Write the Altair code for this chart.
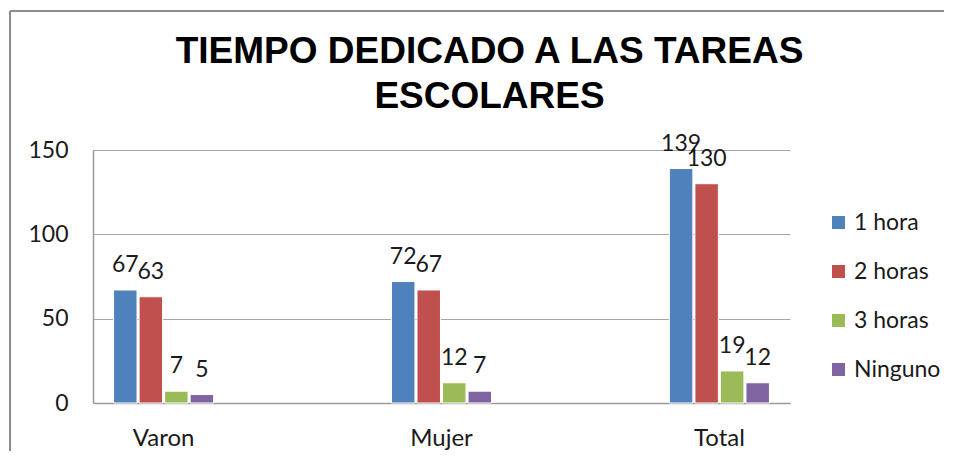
import altair as alt
import pandas as pd

categories = ["Varon", "Mujer", "Total"]
series = ["1 hora", "2 horas", "3 horas", "Ninguno"]
values = {
    "1 hora": [67, 72, 139],
    "2 horas": [63, 67, 130],
    "3 horas": [7, 12, 19],
    "Ninguno": [5, 7, 12],
}
colors = ["#4F81BD", "#C0504D", "#9BBB59", "#8064A2"]

rows = []
for s in series:
    for c, v in zip(categories, values[s]):
        rows.append({"grupo": c, "serie": s, "valor": v})
df = pd.DataFrame(rows)

FONT = "Lato"
TXT = "#1a1a1a"

x_enc = alt.X("grupo:N", sort=categories, title=None,
              scale=alt.Scale(paddingInner=0.64, paddingOuter=0.074),
              axis=alt.Axis(labelAngle=0, labelFontSize=24, labelFont=FONT, labelColor=TXT,
                            ticks=False, labelPadding=23, domainColor="#9a9a9a",
                            domainWidth=1.5, grid=False))
xo_enc = alt.XOffset("serie:N", sort=series, scale=alt.Scale(paddingInner=0.08, paddingOuter=0))
y_enc = alt.Y("valor:Q", title=None,
              scale=alt.Scale(domain=[0, 150], nice=False),
              axis=alt.Axis(values=[0, 50, 100, 150], labelFontSize=23, labelFont=FONT,
                            labelColor=TXT, ticks=False, labelPadding=25,
                            domainColor="#9a9a9a", domainWidth=1.5,
                            gridColor="#a6a6a6", gridWidth=1.2))

bars = alt.Chart(df).mark_bar(stroke="white", strokeWidth=1).encode(
    x=x_enc, xOffset=xo_enc, y=y_enc,
    color=alt.Color("serie:N", sort=series,
                    scale=alt.Scale(domain=series, range=colors),
                    legend=alt.Legend(title=None, orient="none", legendX=734, legendY=61,
                                      symbolType="square", symbolSize=169,
                                      symbolStrokeWidth=0, labelFontSize=23,
                                      labelFont=FONT, labelColor=TXT, rowPadding=25,
                                      labelOffset=4)),
)

labels = alt.Chart(df).mark_text(fontSize=23, font=FONT, color=TXT, baseline="middle",
                                 align="center", dy=-25).encode(
    x=alt.X("grupo:N", sort=categories), xOffset=alt.XOffset("serie:N", sort=series),
    y="valor:Q", text="valor:Q",
)

border_top = alt.Chart(df).mark_rule(color="#8c8c8c", strokeWidth=2).encode(
    x=alt.value(-83), x2=alt.value(900), y=alt.value(-139))
border_left = alt.Chart(df).mark_rule(color="#8c8c8c", strokeWidth=2).encode(
    x=alt.value(-83), y=alt.value(-139), y2=alt.value(330))

chart = alt.layer(border_top, border_left, bars, labels).properties(
    width=697, height=253,
    background="white",
    title=alt.TitleParams(["TIEMPO DEDICADO A LAS TAREAS", "ESCOLARES"],
                          font="Liberation Sans", fontSize=37, fontWeight="bold",
                          color="black", anchor="middle", dx=48, lineHeight=45,
                          baseline="alphabetic", offset=0, dy=135),
    padding={"left": 85, "top": 142, "right": 154, "bottom": 48},
    autosize=alt.AutoSizeParams(type="none"),
).configure_view(strokeWidth=0, stroke="transparent")

chart.save("out.html", embed_options={"renderer": "svg", "actions": False})
